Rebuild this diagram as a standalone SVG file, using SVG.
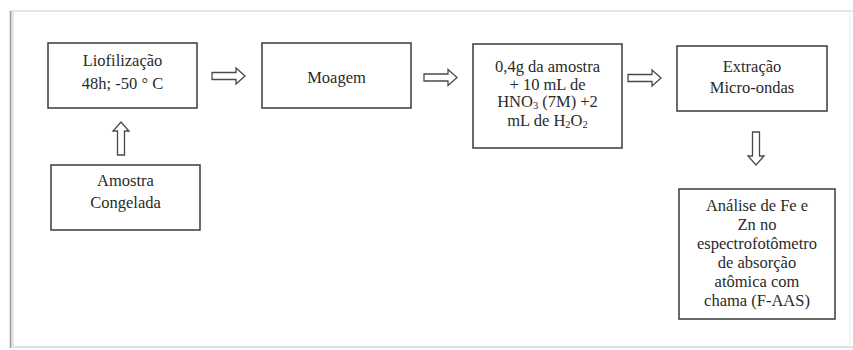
<svg xmlns="http://www.w3.org/2000/svg" width="853" height="350" viewBox="0 0 853 350">
<style>
.box{fill:#fff;stroke:#3a3a3a;stroke-width:1.5}
text{font-family:'Liberation Serif','Times New Roman',Times,serif;font-size:16.5px;fill:#2a2a2a;text-anchor:middle}
.sub{font-size:10.5px}
.arr{fill:#fff;stroke:#4a4a4a;stroke-width:1.3;stroke-linejoin:miter}
</style>
<defs>
<path id="ar" d="M0,-3.5 H24 V-8 L33,0 L24,8 V3.5 H0 Z"/>
</defs>
<rect x="0" y="0" width="853" height="350" fill="#fff"/>
<g id="frame" fill="none">
<line x1="10" y1="11" x2="853" y2="11" stroke="#dcdcdc" stroke-width="1.5"/>
<line x1="10" y1="347" x2="853" y2="347" stroke="#d6d6d6" stroke-width="1.5"/>
<line x1="850" y1="11" x2="850" y2="347" stroke="#eeeeee" stroke-width="1"/>
<line x1="12.5" y1="11" x2="12.5" y2="348" stroke="#e6e6e6" stroke-width="3"/>
<line x1="10.5" y1="11" x2="10.5" y2="348" stroke="#9a9a9a" stroke-width="1.5"/>
</g>
<g id="liofilizacao" font-family="Liberation Serif, serif">
<rect class="box" x="48" y="43" width="149" height="65"/>
<text x="122.5" y="66">Liofilização</text>
<text x="122.5" y="89">48h; -50 ° C</text>
</g>
<g id="moagem" font-family="Liberation Serif, serif">
<rect class="box" x="262" y="43" width="149" height="65"/>
<text x="336.5" y="83">Moagem</text>
</g>
<g id="amostra-prep" font-family="Liberation Serif, serif">
<rect class="box" x="473" y="44" width="149" height="104"/>
<text x="547.5" y="72">0,4g da amostra</text>
<text x="547.5" y="90">+ 10 mL de</text>
<text x="547.5" y="107">HNO<tspan class="sub" dy="2">3</tspan><tspan dy="-2"> (7M) +2</tspan></text>
<text x="547.5" y="126">mL de H<tspan class="sub" dy="2">2</tspan><tspan dy="-2">O</tspan><tspan class="sub" dy="2">2</tspan></text>
</g>
<g id="extracao" font-family="Liberation Serif, serif">
<rect class="box" x="677" y="46" width="150" height="65"/>
<text x="752" y="72">Extração</text>
<text x="752" y="93">Micro-ondas</text>
</g>
<g id="amostra-congelada" font-family="Liberation Serif, serif">
<rect class="box" x="51" y="165" width="149" height="65"/>
<text x="125.5" y="186">Amostra</text>
<text x="125.5" y="208">Congelada</text>
</g>
<g id="analise" font-family="Liberation Serif, serif">
<rect class="box" x="679" y="189" width="156" height="130"/>
<text x="757" y="211">Análise de Fe e</text>
<text x="757" y="230">Zn no</text>
<text x="757" y="249">espectrofotômetro</text>
<text x="757" y="268">de absorção</text>
<text x="757" y="287">atômica com</text>
<text x="757" y="306">chama (F-AAS)</text>
</g>
<g id="connectors">
<use href="#ar" class="arr" transform="translate(212,76)"/>
<use href="#ar" class="arr" transform="translate(424,77.5)"/>
<use href="#ar" class="arr" transform="translate(628,78)"/>
<use href="#ar" class="arr" transform="translate(121,155) rotate(-90)"/>
<use href="#ar" class="arr" transform="translate(756,132) rotate(90)"/>
</g>
</svg>
